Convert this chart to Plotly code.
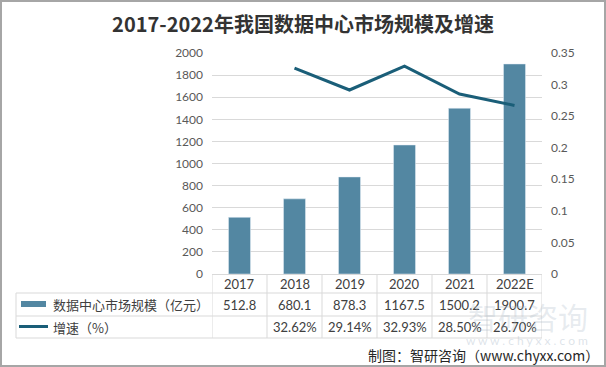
import plotly.graph_objects as go

years = ["2017", "2018", "2019", "2020", "2021", "2022E"]
market = [512.8, 680.1, 878.3, 1167.5, 1500.2, 1900.7]
growth = [None, 0.3262, 0.2914, 0.3293, 0.2850, 0.2670]
market_labels = ["512.8", "680.1", "878.3", "1167.5", "1500.2", "1900.7"]
growth_labels = ["", "32.62%", "29.14%", "32.93%", "28.50%", "26.70%"]
left_ticks = [0, 200, 400, 600, 800, 1000, 1200, 1400, 1600, 1800, 2000]
right_ticks = [0, 0.05, 0.1, 0.15, 0.2, 0.25, 0.3, 0.35]
right_tick_text = ["0", "0.05", "0.1", "0.15", "0.2", "0.25", "0.3", "0.35"]
series_names = ["数据中心市场规模（亿元）", "增速（%）"]
title_text = "2017-2022年我国数据中心市场规模及增速"
source_text = "制图：智研咨询（www.chyxx.com）"

W, H = 606, 367
L, R, T, B = 212, 542, 53, 274
BAR_C = "#5387A2"
LINE_C = "#1A5E78"
GRID_C = "#D9D9D9"
FONT = "Lato, 'Noto Sans CJK SC', sans-serif"
CJK = "'Noto Sans CJK SC', sans-serif"


def px(x):
    return (x - L) / (R - L)


def py(y):
    return (B - y) / (B - T)


fig = go.Figure()
fig.add_trace(go.Bar(x=years, y=market, marker_color=BAR_C, width=0.4,
                     name=series_names[0], yaxis="y"))
fig.add_trace(go.Scatter(x=years, y=growth, mode="lines", name=series_names[1],
                         line=dict(color=LINE_C, width=3), yaxis="y2"))

shapes = []
# table horizontal lines
for yy in [293, 316, 338]:
    shapes.append(dict(type="line", xref="paper", yref="paper", x0=px(16), x1=1,
                       y0=py(yy), y1=py(yy), line=dict(color=GRID_C, width=1)))
shapes.append(dict(type="line", xref="paper", yref="paper", x0=px(16), x1=px(16),
                   y0=py(293), y1=py(338), line=dict(color=GRID_C, width=1)))
for i in range(len(years) + 1):
    shapes.append(dict(type="line", xref="x", yref="paper", x0=i - 0.5, x1=i - 0.5,
                       y0=0, y1=py(338), line=dict(color=GRID_C, width=1)))
# legend keys
shapes.append(dict(type="rect", xref="paper", yref="paper", x0=px(21), x1=px(46),
                   y0=py(307), y1=py(301), fillcolor=BAR_C, line=dict(width=0)))
shapes.append(dict(type="line", xref="paper", yref="paper", x0=px(19), x1=px(48),
                   y0=py(326.5), y1=py(326.5), line=dict(color=LINE_C, width=3)))
# outer frame
shapes.append(dict(type="rect", xref="paper", yref="paper", x0=px(1), x1=px(605),
                   y0=py(1), y1=py(366), line=dict(color="#A6A6A6", width=2)))

ann = []
for i, y in enumerate(years):
    ann.append(dict(x=i, y=py(284), xref="x", yref="paper", text=y, showarrow=False,
                    xanchor="center", yanchor="middle",
                    font=dict(size=13, color="#404040", family=FONT)))
    ann.append(dict(x=i, y=py(304.5), xref="x", yref="paper", text=market_labels[i],
                    showarrow=False, xanchor="center", yanchor="middle",
                    font=dict(size=13, color="#404040", family=FONT)))
    ann.append(dict(x=i, y=py(327), xref="x", yref="paper", text=growth_labels[i],
                    showarrow=False, xanchor="center", yanchor="middle",
                    font=dict(size=13, color="#404040", family=FONT)))
ann.append(dict(x=px(51), y=py(304.5), xref="paper", yref="paper", text=series_names[0],
                xanchor="left", yanchor="middle", showarrow=False,
                font=dict(size=13, color="#404040", family=CJK)))
ann.append(dict(x=px(51), y=py(327), xref="paper", yref="paper", text=series_names[1],
                xanchor="left", yanchor="middle", showarrow=False,
                font=dict(size=13, color="#404040", family=CJK)))
# watermark
ann.append(dict(x=px(590), y=py(316), xref="paper", yref="paper", text="智研咨询",
                xanchor="right", yanchor="middle", showarrow=False,
                font=dict(size=30, color="rgba(170,185,200,0.28)", family=CJK)))
ann.append(dict(x=px(590), y=py(340), xref="paper", yref="paper",
                text="w w w . c h y x x . c o m", xanchor="right", yanchor="middle",
                showarrow=False,
                font=dict(size=12, color="rgba(170,185,200,0.4)", family=FONT)))
ann.append(dict(x=px(601), y=py(355), xref="paper", yref="paper", text=source_text,
                xanchor="right", yanchor="middle", showarrow=False,
                font=dict(size=14, color="#262626", family=CJK)))

fig.update_layout(
    width=W, height=H,
    margin=dict(l=L, r=W - R, t=T, b=H - B),
    paper_bgcolor="white", plot_bgcolor="white",
    showlegend=False,
    bargap=0.6,
    title=dict(text="<b>" + title_text + "</b>", x=0.5, xanchor="center",
               y=(H - 25) / H, yanchor="middle",
               font=dict(size=20, color="#333333", family=CJK)),
    xaxis=dict(type="category", range=[-0.5, 5.5], showticklabels=False, showgrid=False,
               showline=True, linecolor=GRID_C, linewidth=1, ticks=""),
    yaxis=dict(range=[0, 2000], tickvals=left_ticks, showgrid=True, gridcolor=GRID_C,
               gridwidth=1, zeroline=False, showline=False, ticks="",
               tickfont=dict(size=12, color="#595959", family=FONT), ticklabelstandoff=8),
    yaxis2=dict(range=[0, 0.35], tickvals=right_ticks, ticktext=right_tick_text,
                overlaying="y", side="right", showgrid=False, zeroline=False,
                showline=False, ticks="",
                tickfont=dict(size=12, color="#595959", family=FONT), ticklabelstandoff=8),
    shapes=shapes,
    annotations=ann,
)

fig.write_html("out.html", config={"displayModeBar": False},
               post_script="document.body.style.margin='0';")
